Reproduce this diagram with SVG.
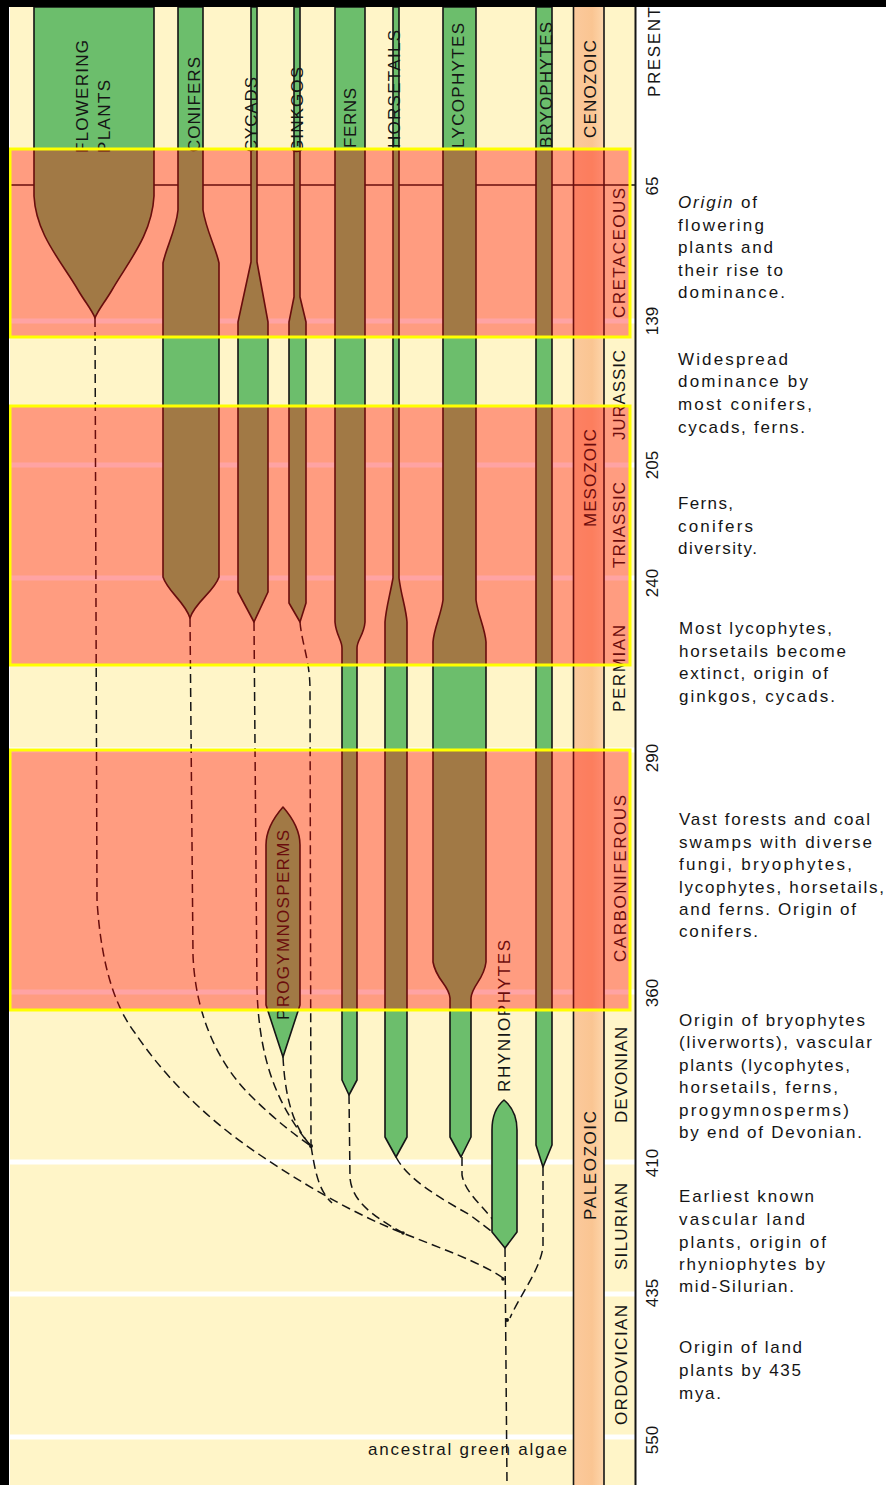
<svg xmlns="http://www.w3.org/2000/svg" width="886" height="1485" viewBox="0 0 886 1485">
<defs>
<linearGradient id="era" x1="0" y1="0" x2="1" y2="0">
<stop offset="0" stop-color="#FBC99C"/>
<stop offset="0.6" stop-color="#FAC592"/>
<stop offset="1" stop-color="#FDD6AC"/>
</linearGradient>
</defs>
<style>
.br{fill:#6CBE6C;stroke:#151515;stroke-width:1.6;stroke-linejoin:round}
.lbl{font-family:"Liberation Sans","DejaVu Sans",sans-serif;font-size:17px;fill:#151515}
.num{font-family:"Liberation Sans","DejaVu Sans",sans-serif;font-size:17px;fill:#151515;text-anchor:middle}
.txt{font-family:"Liberation Sans","DejaVu Sans",sans-serif;font-size:17px;fill:#151515}
.dash{fill:none;stroke:#151515;stroke-width:1.5;stroke-dasharray:9 5}
.wl{stroke:#FFFFFF;stroke-width:5}
.vl{stroke:#151515;stroke-width:1.6}
.hl{fill:#FF0000;fill-opacity:0.36;stroke:#FFFF00;stroke-width:3}
</style>
<rect x="0" y="0" width="886" height="1485" fill="#FFFFFF"/>
<rect x="10" y="7" width="625" height="1478" fill="#FFF5C8"/>
<rect x="574" y="7" width="30" height="1478" fill="url(#era)"/>
<g id="period-lines">
<line class="wl" x1="10" y1="321" x2="573" y2="321"/><line class="wl" x1="604" y1="321" x2="635" y2="321"/>
<line class="wl" x1="10" y1="465" x2="573" y2="465"/><line class="wl" x1="604" y1="465" x2="635" y2="465"/>
<line class="wl" x1="10" y1="578" x2="573" y2="578"/><line class="wl" x1="604" y1="578" x2="635" y2="578"/>
<line class="wl" x1="10" y1="750" x2="573" y2="750"/><line class="wl" x1="604" y1="750" x2="635" y2="750"/>
<line class="wl" x1="10" y1="992" x2="573" y2="992"/><line class="wl" x1="604" y1="992" x2="635" y2="992"/>
<line class="wl" x1="10" y1="1162" x2="573" y2="1162"/><line class="wl" x1="604" y1="1162" x2="635" y2="1162"/>
<line class="wl" x1="10" y1="1294" x2="573" y2="1294"/><line class="wl" x1="604" y1="1294" x2="635" y2="1294"/>
<line class="wl" x1="10" y1="1437" x2="573" y2="1437"/><line class="wl" x1="604" y1="1437" x2="635" y2="1437"/>
<line class="vl" x1="10" y1="185" x2="635" y2="185"/>
<line class="vl" x1="573.5" y1="7" x2="573.5" y2="1485"/>
<line class="vl" x1="604" y1="7" x2="604" y2="1485"/>
<line x1="635.5" y1="7" x2="635.5" y2="1485" stroke="#151515" stroke-width="2"/>
</g>
<g id="connectors">
<path class="dash" d="M95,318 L97,900 C100,950 110,1000 135,1033 C160,1070 200,1115 260,1155 C300,1182 350,1212 400,1232 C440,1248 480,1262 503,1278"/>
<path class="dash" d="M190,618 L193,955 C195,1010 215,1060 250,1095 C275,1120 295,1135 311,1146"/>
<path class="dash" d="M254,622 L257,990 C259,1050 272,1100 311,1146"/>
<path class="dash" d="M300,622 C302,645 310,660 310,690 L311,1146"/>
<path class="dash" d="M283,1057 C285,1095 292,1125 311,1146"/>
<path class="dash" d="M311,1146 C315,1170 318,1190 332,1203"/>
<path class="dash" d="M349,1095 L350,1178 C352,1200 370,1215 403,1233"/>
<path class="dash" d="M396,1157 C408,1180 440,1198 470,1215 L495,1234"/>
<path class="dash" d="M462,1157 L462,1175 C465,1192 480,1203 493,1220"/>
<path class="dash" d="M543,1167 L543,1247 C540,1270 520,1295 510,1318"/>
<path class="dash" d="M505,1248 L507,1485"/>
<circle cx="311" cy="1146" r="2" fill="#151515"/>
<circle cx="403" cy="1233" r="1.8" fill="#151515"/>
<circle cx="503" cy="1279" r="1.8" fill="#151515"/>
<circle cx="507" cy="1320" r="2" fill="#151515"/>
</g>
<g id="flowering-plants">
<path class="br" d="M34,7 L34,196 C36,235 62,262 78,290 C85,302 92,310 95,318 C98,310 105,302 112,290 C128,262 152,235 154,196 L154,7 Z"/>
<text class="lbl" transform="translate(88,153) rotate(-90)" textLength="113" lengthAdjust="spacing">FLOWERING</text>
<text class="lbl" transform="translate(110,153) rotate(-90)" textLength="73" lengthAdjust="spacing">PLANTS</text>
</g>
<g id="conifers">
<path class="br" d="M178,7 L178,210 C176,230 166,248 163,263 L163,577 C168,592 185,602 190,618 C195,602 214,592 219,577 L219,263 C216,248 206,230 203,210 L203,7 Z"/>
<text class="lbl" transform="translate(200,152) rotate(-90)" textLength="95" lengthAdjust="spacing">CONIFERS</text>
</g>
<g id="cycads">
<path class="br" d="M251,7 L251,262 L238,322 L238,592 L254,622 L268,592 L268,322 L257,262 L257,7 Z"/>
<text class="lbl" transform="translate(257,152) rotate(-90)" textLength="75" lengthAdjust="spacing">CYCADS</text>
</g>
<g id="ginkgos">
<path class="br" d="M294,7 L294,297 L289,322 L289,603 L300,622 L306,603 L306,322 L300,297 L300,7 Z"/>
<text class="lbl" transform="translate(303,153) rotate(-90)" textLength="86" lengthAdjust="spacing">GINKGOS</text>
</g>
<g id="ferns">
<path class="br" d="M335,7 L335,622 C336,635 342,640 342,648 L342,1080 L349,1095 L357,1080 L357,648 C357,640 364,635 365,622 L365,7 Z"/>
<text class="lbl" transform="translate(356,148) rotate(-90)" textLength="60" lengthAdjust="spacing">FERNS</text>
</g>
<g id="horsetails">
<path class="br" d="M393,7 L393,578 C390,595 386,608 385,622 L385,1137 L396,1157 L407,1137 L407,622 C406,608 401,595 399,578 L399,7 Z"/>
<text class="lbl" transform="translate(400,148) rotate(-90)" textLength="118" lengthAdjust="spacing">HORSETAILS</text>
</g>
<g id="lycophytes">
<path class="br" d="M443,7 L443,600 C441,615 434,628 433,642 L433,962 C436,980 449,985 450,998 L450,1137 L461,1157 L471,1137 L471,998 C472,985 484,980 486,962 L486,642 C485,628 478,615 476,600 L476,7 Z"/>
<text class="lbl" transform="translate(464,148) rotate(-90)" textLength="125" lengthAdjust="spacing">LYCOPHYTES</text>
</g>
<g id="bryophytes">
<path class="br" d="M536,7 L536,1145 L543,1167 L552,1145 L552,7 Z"/>
<text class="lbl" transform="translate(552,148) rotate(-90)" textLength="126" lengthAdjust="spacing">BRYOPHYTES</text>
</g>
<g id="progymnosperms">
<path class="br" d="M266,1005 L266,845 C266,828 276,815 283,807 C290,815 300,828 300,845 L300,1005 L283,1057 Z"/>
<text class="lbl" transform="translate(289,1020) rotate(-90)" textLength="190" lengthAdjust="spacing">PROGYMNOSPERMS</text>
</g>
<g id="rhyniophytes">
<path class="br" d="M492,1232 L492,1130 C492,1115 498,1105 504,1100 C510,1105 517,1115 517,1130 L517,1232 L505,1248 Z"/>
<text class="lbl" transform="translate(510,1092) rotate(-90)" textLength="152" lengthAdjust="spacing">RHYNIOPHYTES</text>
</g>
<g id="eras">
<text class="lbl" transform="translate(596,138) rotate(-90)" textLength="98" lengthAdjust="spacing">CENOZOIC</text>
<text class="lbl" transform="translate(596,527) rotate(-90)" textLength="98" lengthAdjust="spacing">MESOZOIC</text>
<text class="lbl" transform="translate(596,1220) rotate(-90)" textLength="109" lengthAdjust="spacing">PALEOZOIC</text>
</g>
<g id="periods">
<text class="lbl" transform="translate(625,318) rotate(-90)" textLength="130" lengthAdjust="spacing">CRETACEOUS</text>
<text class="lbl" transform="translate(625,440) rotate(-90)" textLength="90" lengthAdjust="spacing">JURASSIC</text>
<text class="lbl" transform="translate(625,568) rotate(-90)" textLength="86" lengthAdjust="spacing">TRIASSIC</text>
<text class="lbl" transform="translate(625,712) rotate(-90)" textLength="87" lengthAdjust="spacing">PERMIAN</text>
<text class="lbl" transform="translate(626,962) rotate(-90)" textLength="167" lengthAdjust="spacing">CARBONIFEROUS</text>
<text class="lbl" transform="translate(627,1123) rotate(-90)" textLength="96" lengthAdjust="spacing">DEVONIAN</text>
<text class="lbl" transform="translate(627,1270) rotate(-90)" textLength="87" lengthAdjust="spacing">SILURIAN</text>
<text class="lbl" transform="translate(627,1425) rotate(-90)" textLength="120" lengthAdjust="spacing">ORDOVICIAN</text>
</g>
<g id="highlights">
<rect class="hl" x="10" y="149" width="620" height="188"/>
<rect class="hl" x="10" y="406" width="620" height="259"/>
<rect class="hl" x="10" y="750" width="620" height="260"/>
</g>
<rect x="0" y="0" width="886" height="7" fill="#000000"/>
<rect x="0" y="0" width="9" height="1485" fill="#000000"/>
<g id="ages">
<text class="lbl" transform="translate(660,97) rotate(-90)" textLength="90" lengthAdjust="spacing">PRESENT</text>
<text class="num" transform="translate(658,186) rotate(-90)">65</text>
<text class="num" transform="translate(658,321) rotate(-90)">139</text>
<text class="num" transform="translate(658,465) rotate(-90)">205</text>
<text class="num" transform="translate(658,583) rotate(-90)">240</text>
<text class="num" transform="translate(658,758) rotate(-90)">290</text>
<text class="num" transform="translate(658,993) rotate(-90)">360</text>
<text class="num" transform="translate(658,1163) rotate(-90)">410</text>
<text class="num" transform="translate(658,1293) rotate(-90)">435</text>
<text class="num" transform="translate(658,1440) rotate(-90)">550</text>
</g>
<text class="txt" x="368" y="1455" textLength="199" lengthAdjust="spacing">ancestral green algae</text>
<g id="notes">
<text class="txt" x="678" y="208" textLength="79" lengthAdjust="spacing"><tspan font-style="italic">Origin</tspan> of</text>
<text class="txt" x="678" y="230.5" textLength="86" lengthAdjust="spacing">flowering</text>
<text class="txt" x="678" y="253" textLength="95" lengthAdjust="spacing">plants and</text>
<text class="txt" x="678" y="275.5" textLength="105" lengthAdjust="spacing">their rise to</text>
<text class="txt" x="678" y="298" textLength="107" lengthAdjust="spacing">dominance.</text>
<text class="txt" x="678" y="365" textLength="110" lengthAdjust="spacing">Widespread</text>
<text class="txt" x="678" y="387" textLength="130" lengthAdjust="spacing">dominance by</text>
<text class="txt" x="678" y="410" textLength="134" lengthAdjust="spacing">most conifers,</text>
<text class="txt" x="678" y="433" textLength="127" lengthAdjust="spacing">cycads, ferns.</text>
<text class="txt" x="678" y="509" textLength="55" lengthAdjust="spacing">Ferns,</text>
<text class="txt" x="678" y="532" textLength="75" lengthAdjust="spacing">conifers</text>
<text class="txt" x="678" y="554" textLength="79" lengthAdjust="spacing">diversity.</text>
<text class="txt" x="679" y="634" textLength="153" lengthAdjust="spacing">Most lycophytes,</text>
<text class="txt" x="679" y="657" textLength="167" lengthAdjust="spacing">horsetails become</text>
<text class="txt" x="679" y="679" textLength="149" lengthAdjust="spacing">extinct, origin of</text>
<text class="txt" x="679" y="702" textLength="156" lengthAdjust="spacing">ginkgos, cycads.</text>
<text class="txt" x="679" y="825" textLength="191" lengthAdjust="spacing">Vast forests and coal</text>
<text class="txt" x="679" y="848" textLength="193" lengthAdjust="spacing">swamps with diverse</text>
<text class="txt" x="679" y="870" textLength="173" lengthAdjust="spacing">fungi, bryophytes,</text>
<text class="txt" x="679" y="893" textLength="205" lengthAdjust="spacing">lycophytes, horsetails,</text>
<text class="txt" x="679" y="915" textLength="177" lengthAdjust="spacing">and ferns. Origin of</text>
<text class="txt" x="679" y="937" textLength="79" lengthAdjust="spacing">conifers.</text>
<text class="txt" x="679" y="1026" textLength="186" lengthAdjust="spacing">Origin of bryophytes</text>
<text class="txt" x="679" y="1048" textLength="193" lengthAdjust="spacing">(liverworts), vascular</text>
<text class="txt" x="679" y="1071" textLength="171" lengthAdjust="spacing">plants (lycophytes,</text>
<text class="txt" x="679" y="1093" textLength="159" lengthAdjust="spacing">horsetails, ferns,</text>
<text class="txt" x="679" y="1116" textLength="170" lengthAdjust="spacing">progymnosperms)</text>
<text class="txt" x="679" y="1138" textLength="183" lengthAdjust="spacing">by end of Devonian.</text>
<text class="txt" x="679" y="1202" textLength="135" lengthAdjust="spacing">Earliest known</text>
<text class="txt" x="679" y="1225" textLength="126" lengthAdjust="spacing">vascular land</text>
<text class="txt" x="679" y="1248" textLength="147" lengthAdjust="spacing">plants, origin of</text>
<text class="txt" x="679" y="1270" textLength="146" lengthAdjust="spacing">rhyniophytes by</text>
<text class="txt" x="679" y="1292" textLength="115" lengthAdjust="spacing">mid-Silurian.</text>
<text class="txt" x="679" y="1353" textLength="123" lengthAdjust="spacing">Origin of land</text>
<text class="txt" x="679" y="1376" textLength="122" lengthAdjust="spacing">plants by 435</text>
<text class="txt" x="679" y="1399" textLength="42" lengthAdjust="spacing">mya.</text>
</g>
</svg>
